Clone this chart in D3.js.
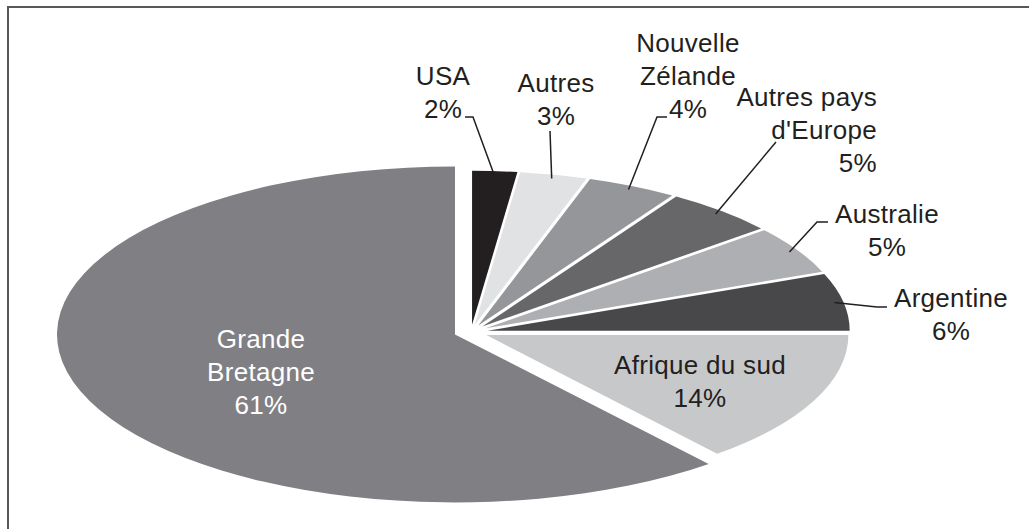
<!DOCTYPE html>
<html>
<head>
<meta charset="utf-8">
<script src="https://cdn.jsdelivr.net/npm/d3@7"></script>
<style>
  body { margin: 0; background: #fff; }
  svg { display: block; }
  text { font-family: "Liberation Sans", Arial, sans-serif; font-size: 26px; letter-spacing: 0.3px; fill: #231f20; }
</style>
</head>
<body>
<div id="chart"></div>
<script>
// data (clockwise from 12 o'clock)
const categories = ["USA", "Autres", "Nouvelle Zélande", "Autres pays d'Europe", "Australie", "Argentine", "Afrique du sud", "Grande Bretagne"];
const shares = [2, 3, 4, 5, 5, 6, 14, 61];
const nameLines = [["USA"], ["Autres"], ["Nouvelle", "Zélande"], ["Autres pays", "d'Europe"], ["Australie"], ["Argentine"], ["Afrique du sud"], ["Grande", "Bretagne"]];
const fills = ["#231f20", "#e1e2e3", "#95969a", "#67676a", "#aeafb2", "#48484b", "#c7c8ca", "#808084"];

// label placement (x = anchor, y = first baseline), leader points from the text side
const labelPos = [
  { x: 443, y: 85, anchor: "middle", leader: [[465, 117], [473, 117]] },
  { x: 556, y: 92, anchor: "middle", leader: [[550, 131]] },
  { x: 688, y: 52, anchor: "middle", leader: [[667, 117], [657, 117]] },
  { x: 877, y: 106, anchor: "end", leader: [[776, 142]] },
  { x: 887, y: 223, anchor: "middle", leader: [[828, 222], [817, 222]] },
  { x: 951, y: 307, anchor: "middle", leader: [[887, 307], [877, 307]] },
  { x: 700, y: 374, anchor: "middle", leader: null },
  { x: 261, y: 348, anchor: "middle", leader: null }
];

const width = 1029, height = 529;
const lineGap = 33;
const center = { x: 471, y: 332 };
const rx = 362, ry = 154, explode = 17;
const leadRx = 398, leadRy = 168; // the big slice is drawn larger

const svg = d3.select("#chart").append("svg").attr("width", width).attr("height", height);

// open frame, top and left only
svg.append("path")
  .attr("d", `M${width},7H8V${height}`)
  .attr("fill", "none")
  .attr("stroke", "#58585a")
  .attr("stroke-width", 2);

const data = categories.map((name, i) => ({ name, share: shares[i], lines: nameLines[i], fill: fills[i], pos: labelPos[i] }));
const maxShare = d3.max(shares);
const pie = d3.pie().sort(null).value((d) => d.share);
const arcs = pie(data);

function geom(d) {
  const big = d.data.share === maxShare;
  const a = big ? leadRx : rx;
  const b = big ? leadRy : ry;
  const mid = (d.startAngle + d.endAngle) / 2;
  const dx = explode * Math.sin(mid);
  const dy = -explode * Math.cos(mid) * (b / a);
  return { a, b, mid, x: center.x + dx, y: center.y + dy };
}

svg.append("g").selectAll("g").data(arcs).join("g")
  .attr("transform", (d) => {
    const g = geom(d);
    return `translate(${g.x},${g.y}) scale(1,${g.b / g.a})`;
  })
  .append("path")
  .attr("d", (d) => d3.arc().innerRadius(0).outerRadius(geom(d).a)(d))
  .attr("fill", (d) => d.data.fill);

// leader lines
const line = d3.line();
svg.append("g").selectAll("path").data(arcs.filter((d) => d.data.pos.leader)).join("path")
  .attr("d", (d) => {
    const g = geom(d);
    const onArc = [g.x + g.a * 0.975 * Math.sin(g.mid), g.y - g.b * 0.975 * Math.cos(g.mid)];
    return line([onArc, ...d.data.pos.leader.slice().reverse()]);
  })
  .attr("fill", "none")
  .attr("stroke", "#231f20")
  .attr("stroke-width", 1.5);

// labels
const fmt = (v) => `${v}%`;
const labels = svg.append("g").selectAll("text").data(arcs).join("text")
  .attr("text-anchor", (d) => d.data.pos.anchor)
  .style("fill", (d) => (d.data.share === maxShare ? "#ffffff" : "#231f20"));

labels.selectAll("tspan")
  .data((d) => [...d.data.lines, fmt(d.data.share)].map((t, i) => ({ t, i, p: d.data.pos })))
  .join("tspan")
  .attr("x", (d) => d.p.x)
  .attr("y", (d) => d.p.y + d.i * lineGap)
  .text((d) => d.t);
</script>
</body>
</html>
